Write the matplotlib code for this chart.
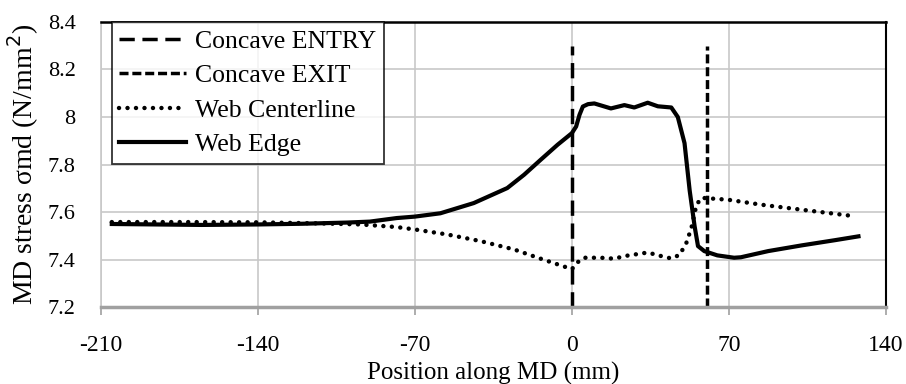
import matplotlib
matplotlib.use('Agg')
import matplotlib.pyplot as plt
from matplotlib.ticker import FixedLocator

# ---- data ----
edge_x = [-205, -185, -165, -140, -120, -100, -90, -78, -70, -58.6, -43.7, -28.8, -21.3, -13.9, -6.4, 0,
          1.9, 3.4, 4.9, 7.2, 10, 17.4, 23.4, 27.8, 33.8, 38.3, 44.3, 47.2, 50.2, 52.5, 54.7,
          56.2, 59, 64.8, 72.3, 75.3, 87.5, 102.4, 117.3, 127.7]
edge_y = [7.55, 7.548, 7.546, 7.548, 7.551, 7.556, 7.56, 7.575, 7.581, 7.595, 7.638, 7.701, 7.757, 7.82, 7.883, 7.932,
          7.96, 8.009, 8.044, 8.054, 8.057, 8.036, 8.05, 8.04, 8.06, 8.045, 8.04, 8.0, 7.89, 7.69, 7.54,
          7.457, 7.436, 7.418, 7.408, 7.41, 7.436, 7.46, 7.482, 7.498]

center_x = [-205, -170, -140, -110, -94, -78, -70, -55.6, -40.7, -25.8, -13.9, -6.3, 0,
            2.7, 5.5, 13, 19, 23.4, 33.8, 39.8, 44.3, 48, 51, 53.3, 55.5, 57.7, 69.6,
            84.5, 102.4, 124]
center_y = [7.558, 7.558, 7.557, 7.552, 7.548, 7.537, 7.527, 7.506, 7.478, 7.443, 7.404, 7.38, 7.36,
            7.39, 7.408, 7.408, 7.404, 7.415, 7.43, 7.415, 7.405, 7.42, 7.47, 7.535, 7.63, 7.66, 7.652,
            7.631, 7.61, 7.585]

entry_x = [0, 0]
entry_y = [7.2, 8.3]
exit_x = [60, 60]
exit_y = [7.2, 8.3]

x_ticks = [-210, -140, -70, 0, 70, 140]
y_ticks = [7.2, 7.4, 7.6, 7.8, 8.0, 8.2, 8.4]
y_tick_labels = ['7.2', '7.4', '7.6', '7.8', '8', '8.2', '8.4']

plt.rcParams['font.family'] = ['Liberation Serif', 'DejaVu Serif']
plt.rcParams['axes.unicode_minus'] = False

fig = plt.figure(figsize=(9.06, 3.84), dpi=100)
ax = fig.add_axes([0.111, 0.2, 0.867, 0.743])

grid_c = '#c8c8c8'
ax.plot(entry_x, entry_y, color='black', lw=2.5, dashes=(4.4, 2.2), label='Concave ENTRY')
ax.plot(exit_x, exit_y, color='black', lw=2.5, dashes=(2.6, 1.1), label='Concave EXIT')
ax.plot(center_x, center_y, color='black', lw=3.2, dashes=(0.01, 1.9),
        dash_capstyle='round', label='Web Centerline')
ax.plot(edge_x, edge_y, color='black', lw=3, label='Web Edge')

ax.set_xlim(-210, 140)
ax.set_ylim(7.2, 8.4)
ax.xaxis.set_major_locator(FixedLocator(x_ticks))
ax.set_yticks(y_ticks)
ax.set_yticklabels(y_tick_labels)
ax.grid(True, color=grid_c, lw=1.2)
ax.set_axisbelow(True)

ax.spines['top'].set_color('black')
ax.spines['top'].set_linewidth(1.8)
ax.spines['right'].set_color('black')
ax.spines['right'].set_linewidth(1.5)
ax.spines['left'].set_color(grid_c)
ax.spines['left'].set_linewidth(1.2)
ax.spines['bottom'].set_color('#a0a0a0')
ax.spines['bottom'].set_linewidth(2.5)

ax.tick_params(axis='x', direction='out', length=6, width=1.2, color='#a0a0a0',
               labelsize=17, pad=14)
ax.tick_params(axis='y', length=0, labelsize=16, pad=18)

ax.set_xlabel('Position along MD (mm)', fontsize=18, labelpad=4)
ax.set_ylabel('MD stress σmd (N/mm$^2$)', fontsize=20, labelpad=5)

leg = ax.legend(loc='upper left', bbox_to_anchor=(0.014, 1.0), fontsize=18.5,
                frameon=True, fancybox=False,
                handlelength=2.6, handletextpad=0.35, borderpad=0.3,
                labelspacing=0.45, borderaxespad=0)
leg.get_frame().set_edgecolor('black')
leg.get_frame().set_linewidth(1.3)

fig.savefig('out.png', dpi=100)
